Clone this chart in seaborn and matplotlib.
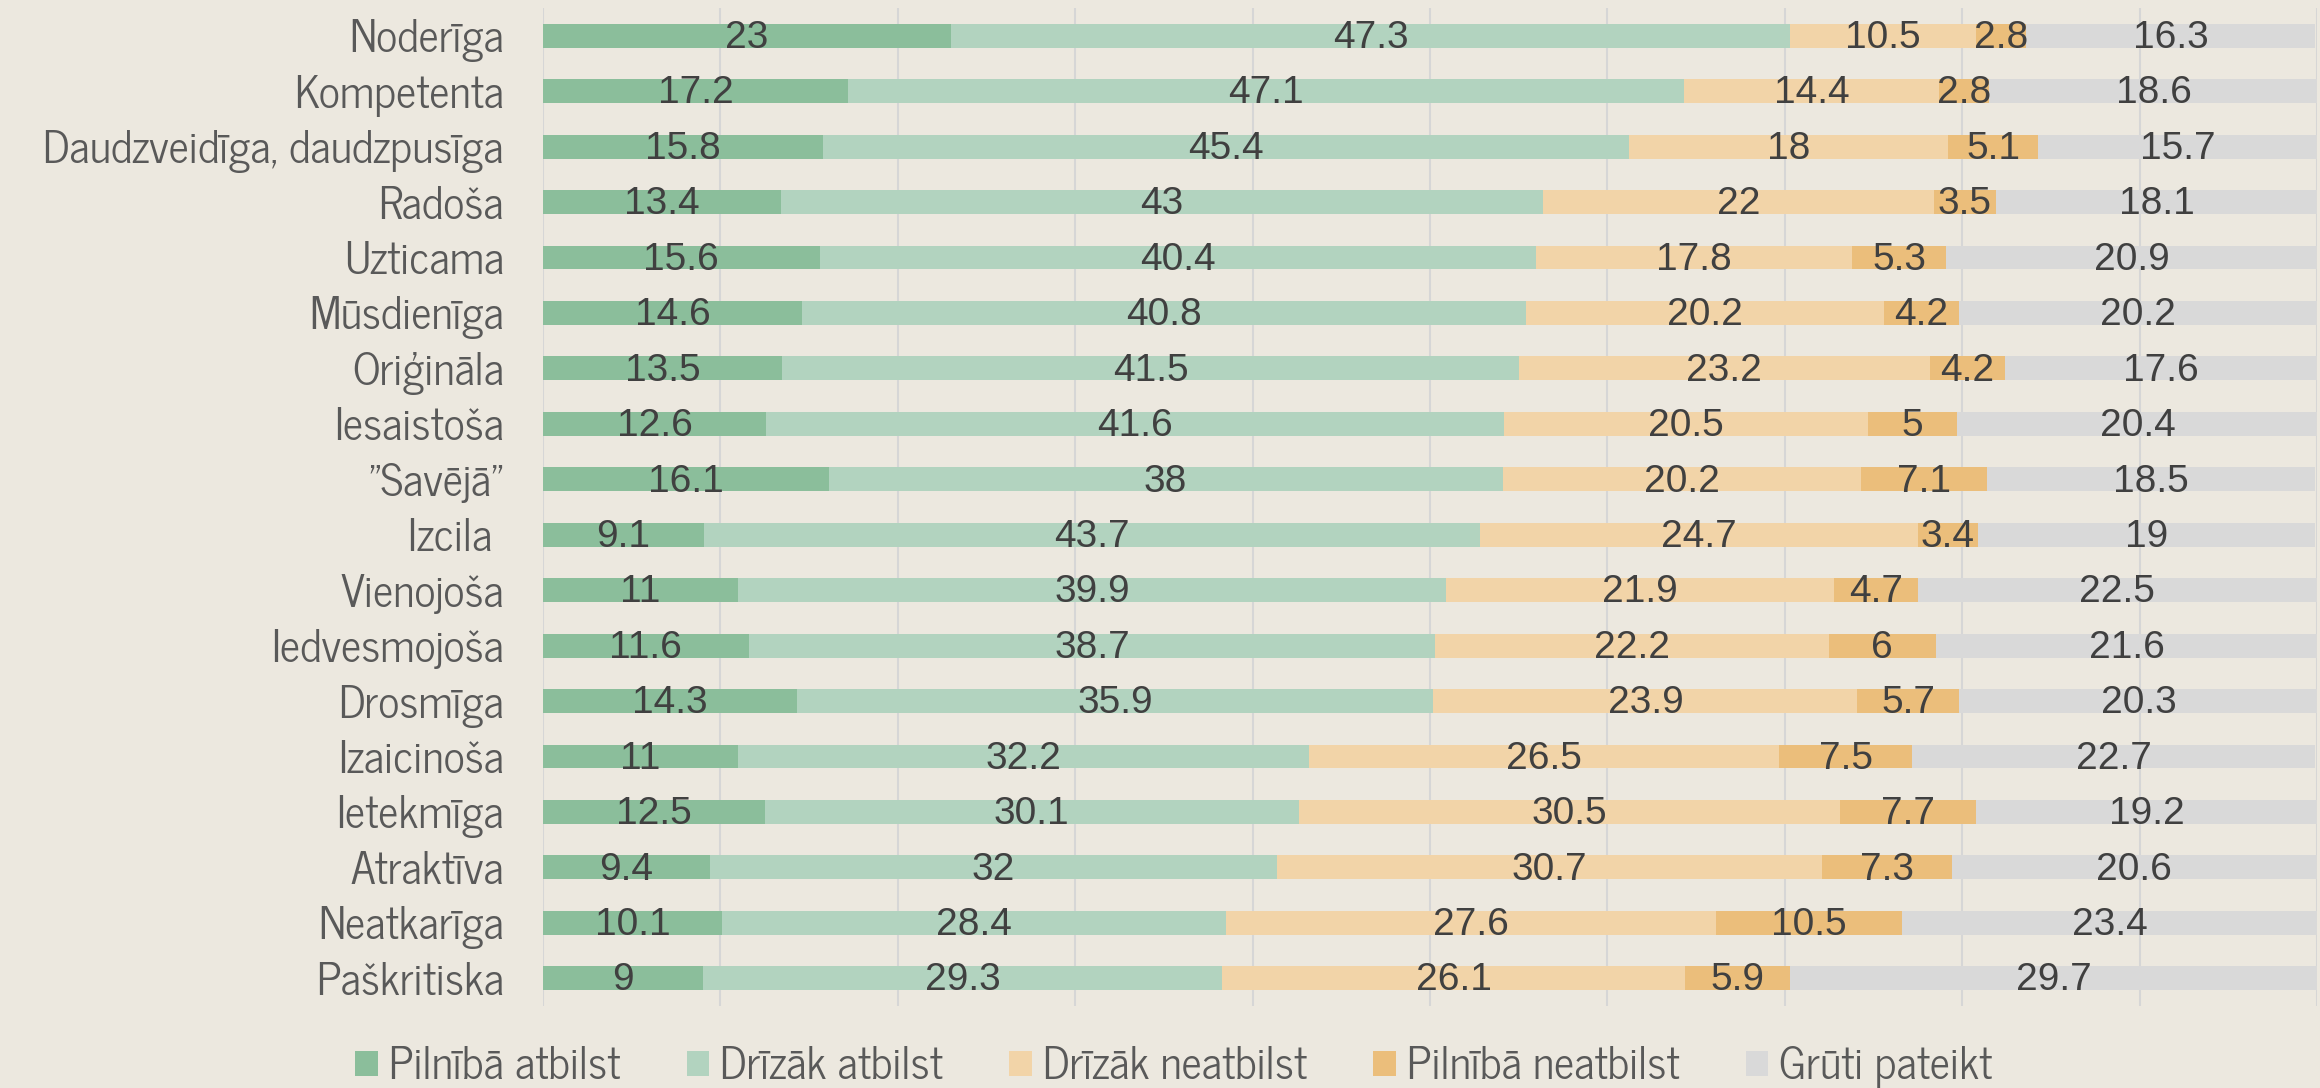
import numpy as np
import pandas as pd
import matplotlib.pyplot as plt
import seaborn as sns
from matplotlib.patches import Patch

# Categories (top to bottom) and the five answer shares, in %
categories = ['Noderīga', 'Kompetenta', 'Daudzveidīga, daudzpusīga', 'Radoša', 'Uzticama',
              'Mūsdienīga', 'Oriģināla', 'Iesaistoša', '"Savējā"', 'Izcila ', 'Vienojoša',
              'Iedvesmojoša', 'Drosmīga', 'Izaicinoša', 'Ietekmīga', 'Atraktīva',
              'Neatkarīga', 'Paškritiska']
series_names = ['Pilnībā atbilst', 'Drīzāk atbilst', 'Drīzāk neatbilst',
                'Pilnībā neatbilst', 'Grūti pateikt']
pilniba_atbilst = [23, 17.2, 15.8, 13.4, 15.6, 14.6, 13.5, 12.6, 16.1, 9.1, 11, 11.6, 14.3, 11, 12.5, 9.4, 10.1, 9]
drizak_atbilst = [47.3, 47.1, 45.4, 43, 40.4, 40.8, 41.5, 41.6, 38, 43.7, 39.9, 38.7, 35.9, 32.2, 30.1, 32, 28.4, 29.3]
drizak_neatbilst = [10.5, 14.4, 18, 22, 17.8, 20.2, 23.2, 20.5, 20.2, 24.7, 21.9, 22.2, 23.9, 26.5, 30.5, 30.7, 27.6, 26.1]
pilniba_neatbilst = [2.8, 2.8, 5.1, 3.5, 5.3, 4.2, 4.2, 5, 7.1, 3.4, 4.7, 6, 5.7, 7.5, 7.7, 7.3, 10.5, 5.9]
gruti_pateikt = [16.3, 18.6, 15.7, 18.1, 20.9, 20.2, 17.6, 20.4, 18.5, 19, 22.5, 21.6, 20.3, 22.7, 19.2, 20.6, 23.4, 29.7]

colors = ['#8BBE9B', '#B2D3BF', '#F2D4A8', '#EBBE7B', '#D9D9D9']
bg = '#ECE8DF'
label_font = ['News Cycle', 'DejaVu Sans']
num_font = ['Liberation Sans', 'DejaVu Sans']

df = pd.DataFrame({'cat': categories})
for name, vals in zip(series_names, [pilniba_atbilst, drizak_atbilst, drizak_neatbilst,
                                     pilniba_neatbilst, gruti_pateikt]):
    df[name] = vals
cum = df[series_names].cumsum(axis=1)

sns.set_style('white')
plt.rcParams['font.family'] = label_font

fig = plt.figure(figsize=(23.2, 10.88), dpi=100, facecolor=bg)
ax = fig.add_axes([0.234, 0.0754, 0.7647, 0.9172])
ax.set_facecolor(bg)

# widest cumulative bar first, narrower ones painted on top
for i in range(len(series_names) - 1, -1, -1):
    sns.barplot(x=cum[series_names[i]], y=df['cat'], color=colors[i], orient='h',
                width=0.43, saturation=1, linewidth=0, ax=ax, zorder=2)

# value labels centred in each segment
for i, name in enumerate(series_names):
    starts = cum[name] - df[name]
    for j, (s, v) in enumerate(zip(starts, df[name])):
        ax.text(s + v / 2, j + 0.04, f'{v:g}', ha='center', va='center', fontsize=28,
                family=num_font, color='#404040', zorder=3)

ax.set_xlim(0, 100)
ax.set_ylim(17.5, -0.5)
ax.set_xticks(np.arange(0, 101, 10))
ax.set_xticklabels([])
ax.grid(axis='x', color='#D6D6D6', linewidth=1.5, zorder=0)
ax.grid(axis='y', visible=False)
ax.set_axisbelow(True)
for s in ax.spines.values():
    s.set_visible(False)
ax.set_xlabel('')
ax.set_ylabel('')
ax.tick_params(axis='both', length=0)
ax.tick_params(axis='y', pad=28, labelsize=32, labelcolor='#595959')

handles = [Patch(facecolor=c, edgecolor='none') for c in colors]
fig.legend(handles, series_names, loc='center', bbox_to_anchor=(0.506, 0.019), ncol=5,
           frameon=False, fontsize=32, labelcolor='#595959', handlelength=0.5,
           handleheight=0.5, handletextpad=0.25, columnspacing=1.5)

fig.savefig('out.png', dpi=100, facecolor=bg)
